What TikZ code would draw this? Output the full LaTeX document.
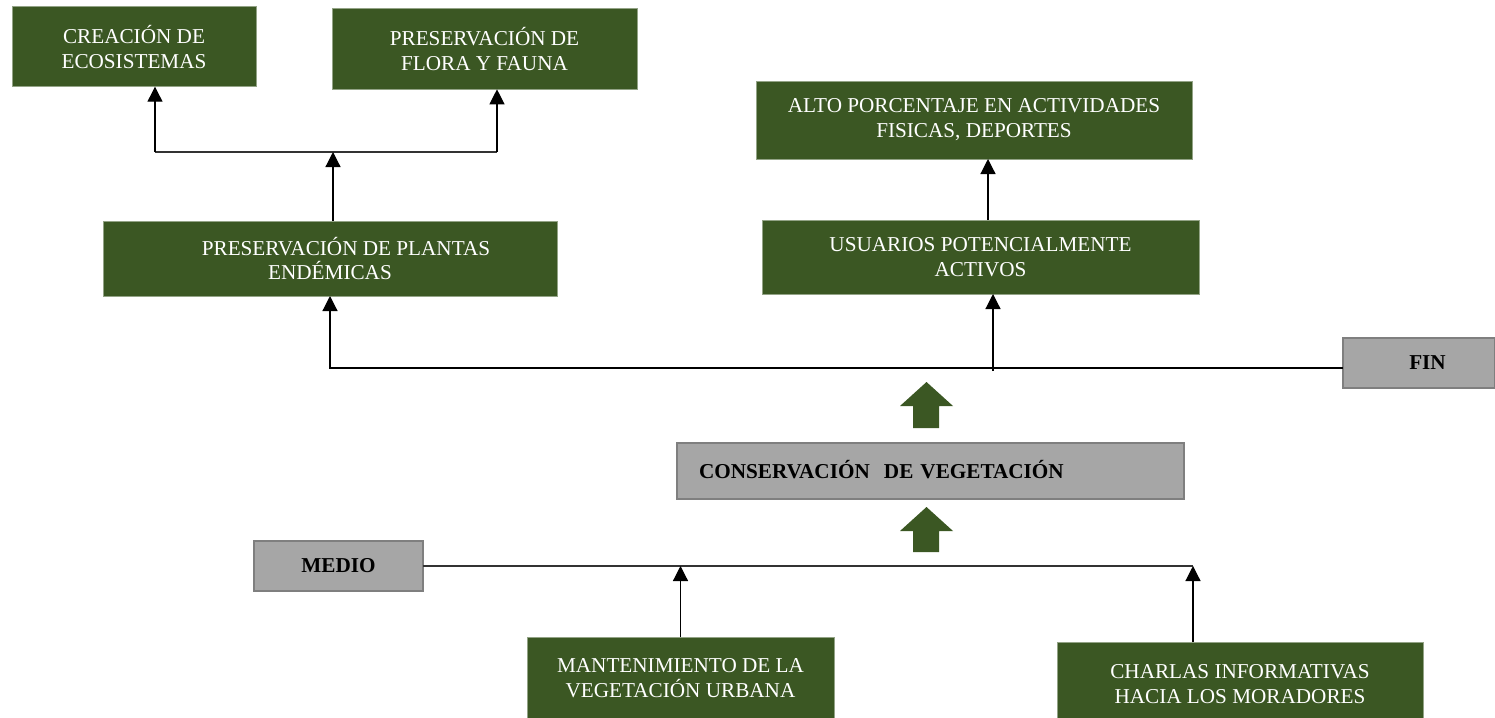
\documentclass[tikz,border=0pt]{standalone}
\usepackage{fontspec}
\setmainfont{Liberation Serif}
\usepackage{tikz}
\usetikzlibrary{
	arrows.meta,
	positioning,
	calc
}
\definecolor{leaf}{RGB}{59,87,35}
\definecolor{stone}{RGB}{166,166,166}
\definecolor{stoneline}{RGB}{127,127,127}

\begin{document}
\begin{tikzpicture}[
				x=0.5pt, y=-0.5pt,
				box/.style={
					rectangle, inner sep=2pt, outer sep=0pt,
					align=center, font=\fontsize{10.6}{12.4}\selectfont
				},
				greenbox/.style={
					box, fill=leaf, draw=leaf!55!white, line width=0.5pt, text=white
				},
				graybox/.style={
					box, fill=stone, draw=stoneline, line width=1pt,
					font=\fontsize{10.6}{12.4}\selectfont\bfseries
				},
				arrow/.style={-{Triangle[width=7.5pt,length=7.5pt]}, line width=0.6pt},
				link/.style={line width=0.6pt, draw=black!80},
				]
				
				\useasboundingbox (0,0) rectangle (1495,718);
				
				%top set
				\node[greenbox, minimum width=122pt, minimum height=40pt] (crea) at (134,46.7) {CREACIÓN DE\\ECOSISTEMAS};
				\node[greenbox, minimum width=152.5pt, minimum height=40.5pt] (flora) at (484.5,48.8) {PRESERVACIÓN DE\\FLORA Y FAUNA};
				\node[greenbox, minimum width=227pt, minimum height=37.5pt] (plantas) at (330,258.5) {\hspace*{16pt}PRESERVACIÓN DE PLANTAS\\ENDÉMICAS};
				
				\coordinate (brL) at (155,152);
				\coordinate (brM) at (333,152);
				\coordinate (brR) at (497,152);
				\draw[link] (brL) -- (brR);
				\draw[arrow] (brL) -- (brL |- crea.south);
				\draw[arrow] (brR) -- (brR |- flora.south);
				\draw[arrow] (brM |- plantas.north) -- (brM);
				
				%right set
				\node[greenbox, minimum width=218pt, minimum height=39pt] (alto) at (974,120) {ALTO PORCENTAJE EN ACTIVIDADES\\FISICAS, DEPORTES};
				\node[greenbox, minimum width=218.5pt, minimum height=37pt] (usuarios) at (980.5,257) {USUARIOS POTENCIALMENTE\\ACTIVOS};
				
				\coordinate (upA) at (988,200);
				\draw[arrow] (upA |- usuarios.north) -- (upA |- alto.south);
				
				%fin line
				\node[graybox, minimum width=76pt, minimum height=25pt] (fin) at (1419,363) {\hspace*{8.5pt}FIN};
				\draw[arrow] ([yshift=-2.5pt]fin.west) -| (plantas.south);
				\coordinate (upU) at (993,371);
				\draw[arrow] (upU) -- (upU |- usuarios.south);
				
				%middle
				\fill[leaf] (900,406) -- (926.5,382) -- (953,406) -- (939,406) -- (939,428) -- (913,428) -- (913,406) -- cycle;
				\node[graybox, text width=231.5pt, inner xsep=11pt, minimum height=28pt, align=left] (conserv) at (930.5,471) {\raisebox{2pt}{CONSERVACIÓN\ \ DE VEGETACIÓN}};
				\fill[leaf] (900,531) -- (926.5,507) -- (953,531) -- (939,531) -- (939,552) -- (913,552) -- (913,531) -- cycle;
				
				%medio line
				\node[graybox, minimum width=84.5pt, minimum height=25pt] (medio) at (338.5,566) {MEDIO};
				\coordinate (endM) at (1193,566);
				\draw[link] (medio.east) -- (endM);
				
				%bottom set
				\node[greenbox, minimum width=153.5pt, minimum height=41.5pt] (mant) at (680.5,678.5) {MANTENIMIENTO DE LA\\VEGETACIÓN URBANA};
				\node[greenbox, minimum width=183pt, minimum height=42pt] (charlas) at (1240,684) {CHARLAS INFORMATIVAS\\HACIA LOS MORADORES};
				\draw[arrow] (mant.north) -- (mant.north |- medio.east);
				\draw[arrow] (endM |- charlas.north) -- (endM);
			\end{tikzpicture}
\end{document}
